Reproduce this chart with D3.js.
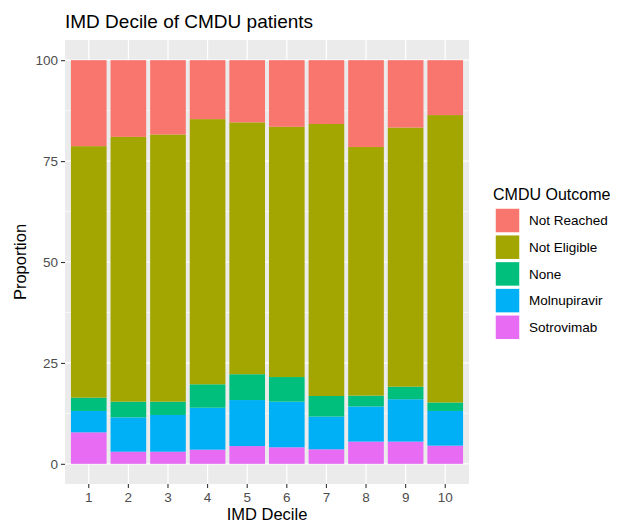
<!DOCTYPE html>
<script src="https://cdn.jsdelivr.net/npm/d3@7"></script>
<html>
    <body style="margin:0;background:#fff">
        <div id="chart-div"></div>
        <script>
            // data (percent of patients per decile)
            const deciles = ["1", "2", "3", "4", "5", "6", "7", "8", "9", "10"];
            const outcomes = ["Not Reached", "Not Eligible", "None", "Molnupiravir", "Sotrovimab"];
            const colors = ["#F8766D", "#A3A500", "#00BF7D", "#00B0F6", "#E76BF3"];
            const sotrovimab = [7.8, 3.0, 3.0, 3.5, 4.4, 4.1, 3.6, 5.5, 5.5, 4.5];
            const molnupiravir = [5.3, 8.5, 9.1, 10.4, 11.4, 11.3, 8.1, 8.7, 10.5, 8.6];
            const none = [3.3, 3.9, 3.3, 5.8, 6.4, 6.1, 5.1, 2.7, 3.1, 2.1];
            const notEligible = [62.3, 65.6, 66.2, 65.7, 62.4, 62.0, 67.4, 61.6, 64.2, 71.2];
            const notReached = [21.3, 19.0, 18.4, 14.6, 15.4, 16.5, 15.8, 21.5, 16.7, 13.6];
            const yTicks = [0, 25, 50, 75, 100];

            const width = 628, height = 523;
            const panel = { left: 65, right: 469, top: 40, bottom: 484 };
            const font = "'Liberation Sans', Arial, sans-serif";

            // build rows for the stack
            const rows = deciles.map(function (d, i) {
                return {
                    decile: d,
                    "Sotrovimab": sotrovimab[i],
                    "Molnupiravir": molnupiravir[i],
                    "None": none[i],
                    "Not Eligible": notEligible[i],
                    "Not Reached": notReached[i]
                };
            });
            const stackKeys = outcomes.slice().reverse();
            const series = d3.stack().keys(stackKeys)(rows);
            const color = d3.scaleOrdinal().domain(outcomes).range(colors);

            const svg = d3.select("#chart-div")
                .append("svg")
                .attr("width", width)
                .attr("height", height)
                .style("font-family", font);

            const x = d3.scaleBand()
                .domain(deciles)
                .range([panel.left, panel.right])
                .paddingInner(0.1)
                .paddingOuter(0.15);

            const y = d3.scaleLinear()
                .domain([-5, 105])
                .range([panel.bottom, panel.top]);

            // panel background
            svg.append("rect")
                .attr("x", panel.left)
                .attr("y", panel.top)
                .attr("width", panel.right - panel.left)
                .attr("height", panel.bottom - panel.top)
                .attr("fill", "#EBEBEB");

            // grid lines
            const minor = d3.range(12.5, 100, 25);
            svg.append("g").selectAll("line")
                .data(minor)
                .enter().append("line")
                .attr("x1", panel.left).attr("x2", panel.right)
                .attr("y1", d => y(d)).attr("y2", d => y(d))
                .attr("stroke", "#fff").attr("stroke-width", 0.6);
            svg.append("g").selectAll("line")
                .data(yTicks)
                .enter().append("line")
                .attr("x1", panel.left).attr("x2", panel.right)
                .attr("y1", d => y(d)).attr("y2", d => y(d))
                .attr("stroke", "#fff").attr("stroke-width", 1.2);
            svg.append("g").selectAll("line")
                .data(deciles)
                .enter().append("line")
                .attr("x1", d => x(d) + x.bandwidth() / 2).attr("x2", d => x(d) + x.bandwidth() / 2)
                .attr("y1", panel.top).attr("y2", panel.bottom)
                .attr("stroke", "#fff").attr("stroke-width", 1.2);

            // stacked bars
            svg.append("g").selectAll("g")
                .data(series)
                .enter().append("g")
                .attr("fill", d => color(d.key))
                .selectAll("rect")
                .data(d => d)
                .enter().append("rect")
                .attr("x", d => x(d.data.decile))
                .attr("width", x.bandwidth())
                .attr("y", d => y(d[1]))
                .attr("height", d => y(d[0]) - y(d[1]));

            // axes
            const xAxis = svg.append("g")
                .attr("transform", "translate(0," + panel.bottom + ")")
                .call(d3.axisBottom(x).tickSize(4).tickPadding(4));
            const yAxis = svg.append("g")
                .attr("transform", "translate(" + panel.left + ",0)")
                .call(d3.axisLeft(y).tickValues(yTicks).tickSize(4).tickPadding(3));
            [xAxis, yAxis].forEach(function (a) {
                a.select(".domain").remove();
                a.selectAll(".tick line").attr("stroke", "#333").attr("stroke-width", 1.1);
                a.selectAll(".tick text")
                    .attr("fill", "#4D4D4D")
                    .style("font-size", "13.5px")
                    .style("font-family", font);
            });

            // titles
            svg.append("text")
                .attr("x", panel.left)
                .attr("y", 28)
                .attr("font-size", 19)
                .attr("fill", "#000")
                .text("IMD Decile of CMDU patients");
            svg.append("text")
                .attr("x", (panel.left + panel.right) / 2)
                .attr("y", 520)
                .attr("text-anchor", "middle")
                .attr("font-size", 16.5)
                .text("IMD Decile");
            svg.append("text")
                .attr("transform", "translate(26," + ((panel.top + panel.bottom) / 2) + ") rotate(-90)")
                .attr("text-anchor", "middle")
                .attr("font-size", 16.5)
                .text("Proportion");

            // legend
            const legend = svg.append("g").attr("transform", "translate(494,0)");
            legend.append("text")
                .attr("x", -1)
                .attr("y", 200)
                .attr("font-size", 16)
                .text("CMDU Outcome");
            const item = legend.selectAll(".item")
                .data(outcomes)
                .enter().append("g")
                .attr("class", "item")
                .attr("transform", (d, i) => "translate(0," + (208 + i * 26.7) + ")");
            item.append("rect")
                .attr("x", 1)
                .attr("width", 25)
                .attr("height", 25)
                .attr("fill", d => color(d))
                .attr("stroke", "#fff")
                .attr("stroke-width", 1.5);
            item.append("text")
                .attr("x", 35)
                .attr("y", 12.5)
                .attr("dy", "0.35em")
                .attr("font-size", 13.5)
                .text(d => d);
        </script>
    </body>
</html>
